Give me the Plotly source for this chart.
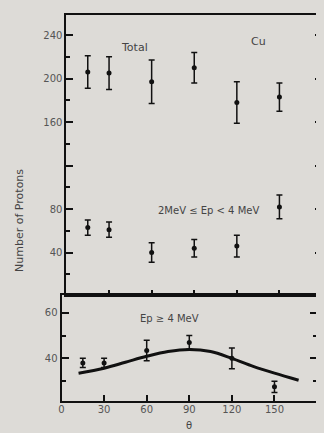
import plotly.graph_objects as go

# The page body has an 8 px default margin, so the figure is drawn
# 8 px smaller and all reference pixel positions are shifted by 8 px.
OFF = 8
W, H = 324 - OFF, 433 - OFF

# ---- data ----
angles = [15, 30, 60, 90, 120, 150]
total = [206, 205, 197, 210, 178, 183]
total_err = [15, 15, 20, 14, 19, 13]
mid = [63, 61, 40, 44, 46, 82]
mid_err = [7, 7, 9, 8, 10, 11]
high = [38, 38, 43.5, 47, 40, 27.5]
high_err = [2, 2, 4.5, 3, 4.5, 2.5]
curve_angles = [12, 30, 45, 60, 75, 90, 105, 120, 135, 150, 167]
curve_vals = [33.5, 35.7, 38.3, 40.9, 43.0, 43.9, 43.0, 40.0, 36.5, 33.5, 30.4]

x_ticks = [0, 30, 60, 90, 120, 150, 180]
x_ticktext = ["0", "30", "60", "90", "120", "150", "180"]
top_yticks = [40, 80, 120, 160, 200, 240]
top_yticktext = ["40", "80", "", "160", "200", "240"]
bot_yticks = [40, 60]
bot_yticktext = ["40", "60"]


def px(x):
    return (x - OFF) / W


def py(y):
    return 1 - (y - OFF) / H


BG = "#dddbd7"
INK = "#111111"
LBL = "#555555"

fig = go.Figure()

err_style = dict(type="data", thickness=1.5, width=3, color=INK)
mk = dict(color=INK, size=5)

fig.add_trace(go.Scatter(x=angles, y=total, mode="markers", marker=mk,
                         error_y=dict(array=total_err, **err_style),
                         xaxis="x2", yaxis="y", showlegend=False))
fig.add_trace(go.Scatter(x=angles, y=mid, mode="markers", marker=mk,
                         error_y=dict(array=mid_err, **err_style),
                         xaxis="x2", yaxis="y", showlegend=False))
fig.add_trace(go.Scatter(x=curve_angles, y=curve_vals, mode="lines",
                         line=dict(color=INK, width=3, shape="spline"),
                         xaxis="x", yaxis="y2", showlegend=False))
fig.add_trace(go.Scatter(x=angles, y=high, mode="markers", marker=mk,
                         error_y=dict(array=high_err, **err_style),
                         xaxis="x", yaxis="y2", showlegend=False))

axis_common = dict(showgrid=False, zeroline=False, showline=True,
                   linecolor=INK, linewidth=2, ticks="inside",
                   tickcolor=INK, tickwidth=1.5,
                   tickfont=dict(family="DejaVu Sans", size=10, color=LBL))

fig.update_layout(
    width=W, height=H, autosize=False,
    margin=dict(l=0, r=0, t=0, b=0),
    paper_bgcolor=BG, plot_bgcolor=BG,
    xaxis=dict(domain=[px(59), px(317)], range=[0, 180], anchor="y2",
               tickvals=x_ticks, ticktext=x_ticktext, ticklen=6,
               ticklabelstandoff=-2,
               mirror=True, **axis_common),
    yaxis2=dict(domain=[py(401), py(295)], range=[21.3, 67.8], anchor="x",
                tickvals=bot_yticks, ticktext=bot_yticktext, ticklen=7,
                mirror="ticks",
                minor=dict(dtick=10, ticklen=4, ticks="inside", tickcolor=INK),
                **axis_common),
    xaxis2=dict(domain=[px(64), px(322)], range=[0, 180], anchor="y",
                tickvals=x_ticks, showticklabels=False, ticklen=5,
                mirror=True, **axis_common),
    yaxis=dict(domain=[py(295), py(15)], range=[1, 258.4], anchor="x2",
               tickvals=top_yticks, ticktext=top_yticktext, ticklen=7,
               mirror="ticks",
               minor=dict(dtick=20, ticklen=4, ticks="inside", tickcolor=INK),
               **axis_common),
)

txt = dict(family="DejaVu Sans", color="#444444")
anns = [
    dict(text="Total", x=px(133), y=py(47), size=11),
    dict(text="Cu", x=px(258), y=py(42), size=11),
    dict(text="2MeV ≤ Ep < 4 MeV", x=px(207), y=py(210), size=10),
    dict(text="Ep ≥ 4 MeV", x=px(168), y=py(318), size=10),
    dict(text="θ", x=px(188), y=py(425), size=10),
]
for a in anns:
    fig.add_annotation(text=a["text"], x=a["x"], y=a["y"], xref="paper",
                       yref="paper", showarrow=False, xanchor="center",
                       yanchor="middle",
                       font=dict(size=a["size"], **txt))
fig.add_annotation(text="Number of Protons", x=px(17), y=py(220),
                   xref="paper", yref="paper", showarrow=False, textangle=-90,
                   xanchor="center", yanchor="middle",
                   font=dict(size=11, **txt))

fig.write_html("out.html",
               post_script="document.body.style.background='%s';" % BG)
